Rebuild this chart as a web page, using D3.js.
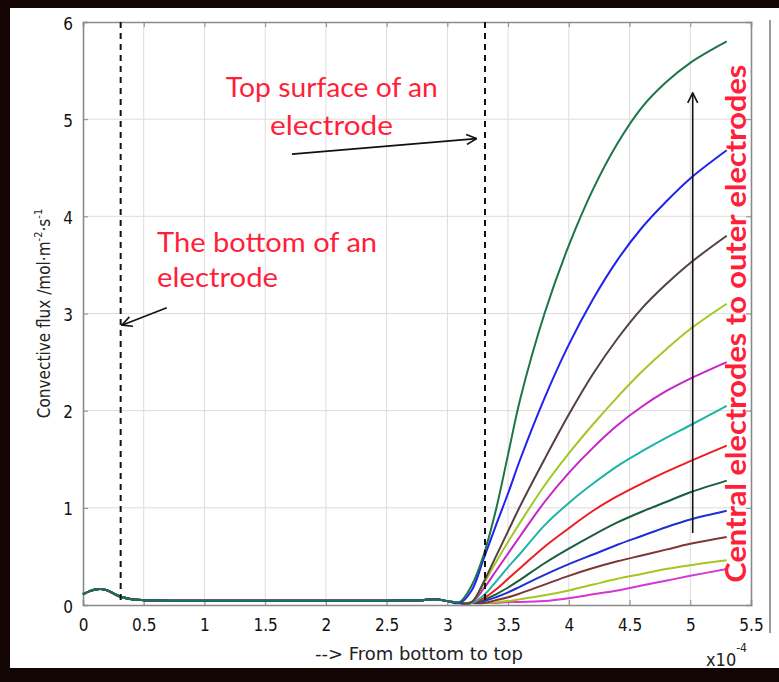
<!DOCTYPE html>
<html>
<head>
<meta charset="utf-8">
<script src="https://cdn.jsdelivr.net/npm/d3@7"></script>
<style>
  html, body { margin: 0; padding: 0; background: #140505; }
  svg { display: block; }
  .tick text { font-family: "DejaVu Sans Condensed", "DejaVu Sans", sans-serif; font-stretch: condensed; font-size: 17px; fill: #111; }
  .note { font-family: Lato, "Open Sans", sans-serif; fill: #ff1f3a; }
</style>
</head>
<body>
<div id="chart"></div>
<script>
// x axis in units of 1e-4, y = convective flux
const xTicks = [0, 0.5, 1, 1.5, 2, 2.5, 3, 3.5, 4, 4.5, 5, 5.5];
const yTicks = [0, 1, 2, 3, 4, 5, 6];

// common part of all curves (bottom region of the electrode)
const baseX = [0, 0.05, 0.1, 0.15, 0.2, 0.25, 0.3, 0.4, 0.5, 0.7, 1, 1.5, 2, 2.5, 2.8, 2.9, 3.0];
const baseY = [0.11, 0.14, 0.16, 0.165, 0.15, 0.12, 0.09, 0.06, 0.05, 0.045, 0.045, 0.045, 0.045, 0.045, 0.05, 0.06, 0.04];

// after x = 3.1 the curves fan out
const fanX = [3.1, 3.2, 3.3, 3.4, 3.5, 3.6, 3.8, 4.0, 4.2, 4.4, 4.6, 4.8, 5.0, 5.3];
const flux1  = [0.03, 0.2, 0.52, 0.98, 1.55, 2.12, 3.0, 3.7, 4.28, 4.75, 5.12, 5.38, 5.58, 5.8];
const flux2  = [0.02, 0.15, 0.48, 0.82, 1.15, 1.5, 2.13, 2.68, 3.15, 3.55, 3.88, 4.15, 4.39, 4.68];
const flux3  = [0.02, 0.03, 0.24, 0.5, 0.76, 1.02, 1.5, 1.96, 2.38, 2.74, 3.05, 3.3, 3.52, 3.8];
const flux4  = [0.02, 0.03, 0.22, 0.44, 0.65, 0.85, 1.23, 1.56, 1.86, 2.14, 2.4, 2.63, 2.84, 3.1];
const flux5  = [0.02, 0.03, 0.17, 0.35, 0.53, 0.71, 1.06, 1.36, 1.62, 1.85, 2.04, 2.2, 2.33, 2.5];
const flux6  = [0.02, 0.02, 0.1, 0.24, 0.39, 0.53, 0.82, 1.05, 1.25, 1.43, 1.58, 1.72, 1.85, 2.05];
const flux7  = [0.02, 0.02, 0.07, 0.16, 0.27, 0.38, 0.6, 0.79, 0.97, 1.12, 1.25, 1.37, 1.48, 1.64];
const flux8  = [0.02, 0.02, 0.05, 0.11, 0.18, 0.26, 0.43, 0.58, 0.72, 0.85, 0.96, 1.06, 1.16, 1.28];
const flux9  = [0.02, 0.02, 0.04, 0.08, 0.13, 0.19, 0.31, 0.42, 0.52, 0.62, 0.71, 0.8, 0.88, 0.97];
const flux10 = [0.02, 0.02, 0.02, 0.05, 0.08, 0.12, 0.21, 0.3, 0.38, 0.45, 0.51, 0.57, 0.63, 0.7];
const flux11 = [0.02, 0.02, 0.02, 0.03, 0.04, 0.06, 0.1, 0.15, 0.21, 0.27, 0.32, 0.37, 0.41, 0.46];
const flux12 = [0.02, 0.02, 0.02, 0.02, 0.03, 0.03, 0.04, 0.07, 0.11, 0.15, 0.2, 0.25, 0.3, 0.37];

const seriesList = [flux1, flux2, flux3, flux4, flux5, flux6, flux7, flux8, flux9, flux10, flux11, flux12];
const seriesColors = ["#1b7548", "#2222ee", "#54403f", "#a2c824", "#c624c6", "#1fb3a6",
                      "#ee1c22", "#1a5e3c", "#1f2fd6", "#7e3636", "#a8c61f", "#d238d2"];

// electrode boundaries (dashed lines)
const boundaryX = [0.31, 3.31];

const W = 779, H = 682;
const margin = {left: 83, right: 27, top: 22, bottom: 77};

const svg = d3.select("#chart").append("svg")
    .attr("width", W)
    .attr("height", H);

// dark frame round the slide picture
svg.append("rect").attr("width", W).attr("height", H).attr("fill", "#140505");
svg.append("rect").attr("x", 10).attr("y", 8).attr("width", W - 10).attr("height", 660).attr("fill", "#ffffff");

const x = d3.scaleLinear().domain([0, 5.5]).range([margin.left, W - margin.right - 1]);
const y = d3.scaleLinear().domain([0, 6]).range([H - margin.bottom, margin.top]);

// gridlines
svg.append("g").selectAll("line.gx")
    .data(xTicks.slice(1, -1))
    .enter().append("line")
    .attr("x1", d => x(d)).attr("x2", d => x(d))
    .attr("y1", y(0)).attr("y2", y(6))
    .attr("stroke", "#dcdcdc").attr("stroke-width", 1);
svg.append("g").selectAll("line.gy")
    .data(yTicks.slice(1, -1))
    .enter().append("line")
    .attr("x1", x(0)).attr("x2", x(5.5))
    .attr("y1", d => y(d)).attr("y2", d => y(d))
    .attr("stroke", "#dcdcdc").attr("stroke-width", 1);

// axes, ticks pointing inward like matlab
const xAxis = svg.append("g")
    .attr("transform", "translate(0," + y(0) + ")")
    .call(d3.axisBottom(x).tickValues(xTicks).tickSize(-5).tickPadding(14).tickFormat(d => String(d)));
const xAxisTop = svg.append("g")
    .attr("transform", "translate(0," + y(6) + ")")
    .call(d3.axisTop(x).tickValues(xTicks).tickSize(-5).tickFormat(""));
const yAxis = svg.append("g")
    .attr("transform", "translate(" + x(0) + ",0)")
    .call(d3.axisLeft(y).tickValues(yTicks).tickSize(-5).tickPadding(10).tickFormat(d => String(d)));
const yAxisRight = svg.append("g")
    .attr("transform", "translate(" + x(5.5) + ",0)")
    .call(d3.axisRight(y).tickValues(yTicks).tickSize(-5).tickFormat(""));

[xAxis, xAxisTop, yAxis, yAxisRight].forEach(function(g) {
    g.select(".domain").attr("stroke", "#8a8a8a").attr("stroke-width", 1.6);
    g.selectAll(".tick line").attr("stroke", "#8a8a8a");
});
yAxis.selectAll(".tick text").attr("dy", "0.42em");

// curves: baseline + fan part, lowest first so the top green curve lies over the base
const line = d3.line()
    .x(d => x(d[0]))
    .y(d => y(d[1]))
    .curve(d3.curveCatmullRom.alpha(0.5));

const curves = seriesList.map(function(vals, i) {
    const pts = baseX.map((bx, j) => [bx, baseY[j]]);
    fanX.forEach((fx, j) => pts.push([fx, vals[j]]));
    return {pts: pts, color: seriesColors[i]};
});

svg.append("g").selectAll("path")
    .data(curves.slice().reverse())
    .enter().append("path")
    .attr("fill", "none")
    .attr("stroke", d => d.color)
    .attr("stroke-width", 2)
    .attr("d", d => line(d.pts));

// dashed boundary lines
svg.append("g").selectAll("line")
    .data(boundaryX)
    .enter().append("line")
    .attr("x1", d => x(d)).attr("x2", d => x(d))
    .attr("y1", y(6)).attr("y2", y(0))
    .attr("stroke", "#111").attr("stroke-width", 2)
    .attr("stroke-dasharray", "6,5");

// arrows
const defs = svg.append("defs");
defs.append("marker")
    .attr("id", "head")
    .attr("viewBox", "0 0 12 12")
    .attr("refX", 11).attr("refY", 6)
    .attr("markerWidth", 12).attr("markerHeight", 12)
    .attr("markerUnits", "userSpaceOnUse")
    .attr("orient", "auto")
    .append("path")
    .attr("d", "M1,1 L11,6 L1,11")
    .attr("fill", "none").attr("stroke", "#111").attr("stroke-width", 1.6);

const arrows = [
    {x1: 1.72, y1: 4.64, x2: 3.24, y2: 4.80},
    {x1: 0.69, y1: 3.06, x2: 0.32, y2: 2.88},
    {x1: 5.02, y1: 0.74, x2: 5.02, y2: 5.27}
];
svg.append("g").selectAll("line")
    .data(arrows)
    .enter().append("line")
    .attr("x1", d => x(d.x1)).attr("y1", d => y(d.y1))
    .attr("x2", d => x(d.x2)).attr("y2", d => y(d.y2))
    .attr("stroke", "#111").attr("stroke-width", 1.6)
    .attr("marker-end", "url(#head)");

// red notes
const notes = [
    {text: "Top surface of an", x: 1.176, y: 5.23, len: 212},
    {text: "electrode", x: 1.54, y: 4.84, len: 123},
    {text: "The bottom of an", x: 0.61, y: 3.63, len: 220},
    {text: "electrode", x: 0.61, y: 3.27, len: 121}
];
svg.append("g").selectAll("text")
    .data(notes)
    .enter().append("text")
    .attr("class", "note")
    .attr("x", d => x(d.x)).attr("y", d => y(d.y))
    .attr("font-size", 27)
    .attr("textLength", d => d.len)
    .attr("lengthAdjust", "spacingAndGlyphs")
    .text(d => d.text);

svg.append("text")
    .attr("class", "note")
    .attr("transform", "translate(" + x(5.46) + "," + y(0.23) + ") rotate(-90)")
    .attr("font-size", 29)
    .attr("font-weight", 700)
    .attr("textLength", 518)
    .attr("lengthAdjust", "spacingAndGlyphs")
    .text("Central electrodes to outer electrodes");

// axis labels
const labelFont = "\"DejaVu Sans Condensed\", \"DejaVu Sans\", sans-serif";
svg.append("text")
    .attr("x", 315)
    .attr("y", 660)
    .style("font-family", labelFont).style("font-stretch", "condensed")
    .attr("font-size", 18).attr("fill", "#222")
    .attr("textLength", 208)
    .attr("lengthAdjust", "spacingAndGlyphs")
    .text("--> From bottom to top");

const exp = svg.append("text")
    .attr("x", 706).attr("y", 666)
    .style("font-family", labelFont).style("font-stretch", "condensed")
    .attr("font-size", 18).attr("fill", "#222");
exp.append("tspan").text("x10");
exp.append("tspan").attr("dy", -14).attr("font-size", 12).text("-4");

const yl = svg.append("text")
    .attr("transform", "translate(50," + ((y(0) + y(6)) / 2) + ") rotate(-90)")
    .attr("text-anchor", "middle")
    .style("font-family", labelFont).style("font-stretch", "condensed")
    .attr("font-size", 17).attr("fill", "#222");
yl.append("tspan").text("Convective flux /mol\u00b7m");
yl.append("tspan").attr("dy", -8).attr("font-size", 11).text("-2");
yl.append("tspan").attr("dy", 8).text("\u00b7s");
yl.append("tspan").attr("dy", -8).attr("font-size", 11).text("-1");

// separator line at the right of the figure
svg.append("line")
    .attr("x1", 770).attr("x2", 770)
    .attr("y1", 20).attr("y2", 633)
    .attr("stroke", "#9a9a9a").attr("stroke-width", 2);
</script>
</body>
</html>
